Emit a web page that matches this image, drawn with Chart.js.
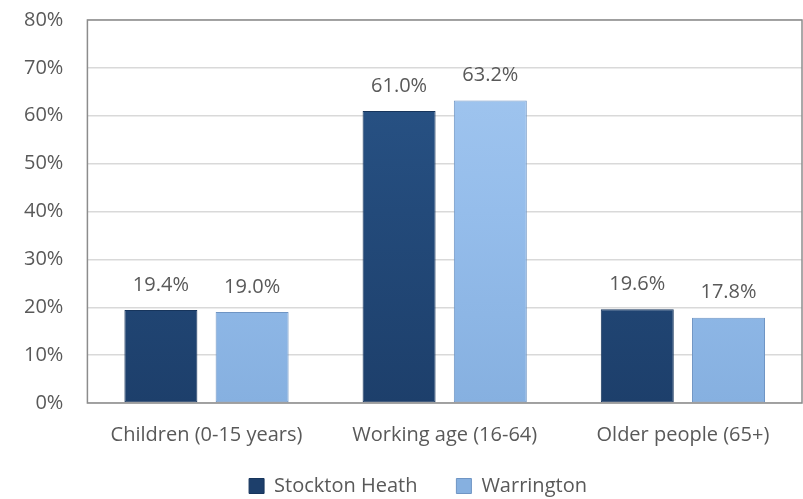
<!DOCTYPE html>
<html>
<head>
<meta charset="utf-8">
<script src="https://cdn.jsdelivr.net/npm/chart.js@4/dist/chart.umd.min.js"></script>
<style>
  html, body { margin: 0; padding: 0; background: #fff; }
  #wrap { width: 803px; height: 499px; }
</style>
</head>
<body>
<div id="wrap"><canvas id="myChart"></canvas></div>
<script>
const categories = ['Children (0-15 years)', 'Working age (16-64)', 'Older people (65+)'];
const stocktonHeath = [19.4, 61.0, 19.6];
const warrington = [19.0, 63.2, 17.8];
const seriesNames = ['Stockton Heath', 'Warrington'];

const FONT = '"Open Sans", sans-serif';
const TEXT = '#595959';

// bar fill with a slight vertical shading, like the bevelled office bars
const shade = (ctx, top, mid, bottom) => {
    const area = ctx.chart.chartArea;
    if (!area) return mid;
    const g = ctx.chart.ctx.createLinearGradient(0, area.top, 0, area.bottom);
    g.addColorStop(0, top);
    g.addColorStop(0.5, mid);
    g.addColorStop(1, bottom);
    return g;
};

const frame = {
    id: 'frame',
    afterDraw(chart) {
        const { ctx, chartArea: a } = chart;
        ctx.save();
        ctx.strokeStyle = '#8c8c8c';
        ctx.lineWidth = 1.5;
        ctx.strokeRect(a.left, a.top, a.right - a.left, a.bottom - a.top);
        ctx.restore();
    }
};

const valueLabels = {
    id: 'valueLabels',
    afterDatasetsDraw(chart) {
        const ctx = chart.ctx;
        ctx.save();
        ctx.font = '20px ' + FONT;
        ctx.fillStyle = TEXT;
        ctx.textAlign = 'center';
        ctx.textBaseline = 'middle';
        chart.data.datasets.forEach((ds, di) => {
            chart.getDatasetMeta(di).data.forEach((bar, i) => {
                ctx.fillText(ds.data[i].toFixed(1) + '%', bar.x, bar.y - 25);
            });
        });
        ctx.restore();
    }
};

// wide gap between legend items needs a big padding, which also makes the
// legend box tall; put the box back where the original has its legend
const legendShift = {
    id: 'legendShift',
    afterLayout(chart) {
        const lg = chart.legend;
        if (!lg) return;
        const h = lg.bottom - lg.top;
        lg.top = 437;
        lg.bottom = 437 + h;
        lg.left += 17;
        lg.right += 17;
    }
};

const ctx = document.getElementById('myChart').getContext('2d');
const myChart = new Chart(ctx, {
    type: 'bar',
    data: {
        labels: categories,
        datasets: [{
            label: seriesNames[0],
            data: stocktonHeath,
            backgroundColor: (c) => shade(c, '#2a568a', '#234a7a', '#1d3f6b'),
            borderColor: '#17355c',
            borderWidth: 1,
            borderSkipped: false,
            barPercentage: 0.8,
            categoryPercentage: 0.766,
        }, {
            label: seriesNames[1],
            data: warrington,
            backgroundColor: (c) => shade(c, '#a4c8f0', '#95bdeb', '#86b0e0'),
            borderColor: '#6f95c4',
            borderWidth: 1,
            borderSkipped: false,
            barPercentage: 0.8,
            categoryPercentage: 0.766,
        }]
    },
    options: {
        responsive: true,
        maintainAspectRatio: false,
        animation: false,
        layout: {
            padding: { top: 0, right: 1, left: 0, bottom: -37 }
        },
        plugins: {
            legend: {
                position: 'bottom',
                labels: {
                    boxWidth: 15,
                    boxHeight: 15,
                    padding: 39,
                    color: TEXT,
                    font: { family: FONT, size: 20 },
                },
            },
            tooltip: { enabled: false },
        },
        scales: {
            x: {
                grid: { display: false, drawTicks: false },
                border: { display: false },
                ticks: {
                    color: TEXT,
                    padding: 20,
                    font: { family: FONT, size: 20 },
                },
            },
            y: {
                min: 0,
                max: 80,
                grid: { color: '#d9d9d9', lineWidth: 1.5, drawTicks: false },
                border: { display: false },
                ticks: {
                    stepSize: 10,
                    color: TEXT,
                    padding: 24,
                    font: { family: FONT, size: 20 },
                    callback: (v) => v + '%',
                },
                // tick padding also pads the top; keep only room for the 80% label
                afterFit(scale) {
                    scale.paddingTop = 20;
                    scale.paddingBottom = 12;
                },
            },
        },
    },
    plugins: [frame, valueLabels, legendShift],
});
</script>
</body>
</html>
